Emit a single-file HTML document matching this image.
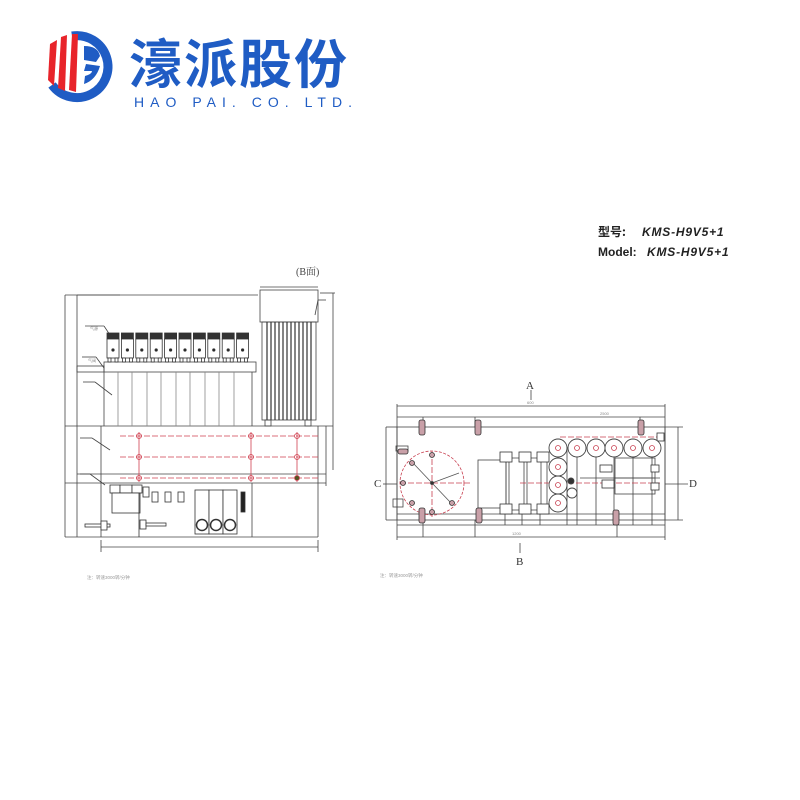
<!DOCTYPE html>
<html><head><meta charset="utf-8"><style>
html,body{margin:0;padding:0;background:#fff;width:800px;height:800px;overflow:hidden}
svg{display:block}
</style></head><body>
<svg width="800" height="800" viewBox="0 0 800 800" xmlns="http://www.w3.org/2000/svg" font-family="Liberation Sans, Noto Sans CJK SC, sans-serif">
<rect width="800" height="800" fill="#fff"/>
<!-- LOGO ICON -->
<g>
  <path d="M72 36 A31 31 0 1 1 52 85" fill="none" stroke="#1f5cc4" stroke-width="9"/>
  <path d="M57 40 L50 44 L48 80 L54 86 Z" fill="#e8242a"/>
  <path d="M67 35 L61 37 L58 88 L65 91 Z" fill="#e8242a"/>
  <path d="M78 34 L72 34 L69 90 L76 92 Z" fill="#e8242a"/>
  <path d="M84 46 Q98 46 100 56 L96 62 L84 60 Z" fill="#1f5cc4"/>
  <path d="M86 64 L100 66 Q96 80 84 84 L85 76 Q92 74 92 71 L84 71 Z" fill="#1f5cc4"/>
</g>
<text x="129" y="83" font-size="53" font-weight="bold" fill="#1f5cc4" font-family="Noto Sans CJK SC, sans-serif" letter-spacing="2">濠派股份</text>
<text x="134" y="107" font-size="14" fill="#1f5cc4" textLength="218" lengthAdjust="spacing">HAO PAI. CO. LTD.</text>

<!-- MODEL -->
<text x="598" y="236" font-size="12" font-weight="bold" fill="#222" font-family="Noto Sans CJK SC, sans-serif">型号:</text>
<text x="642" y="236" font-size="12" font-weight="bold" font-style="italic" fill="#222" letter-spacing="0.8">KMS-H9V5+1</text>
<text x="598" y="256" font-size="12" font-weight="bold" fill="#222">Model:</text>
<text x="647" y="256" font-size="12" font-weight="bold" font-style="italic" fill="#222" letter-spacing="0.8">KMS-H9V5+1</text>

<!-- LEFT DRAWING -->
<g stroke="#444" fill="none" stroke-width="0.8">
  <text x="296" y="275" font-size="10" fill="#444" stroke="none" font-family="Liberation Serif, Noto Serif CJK SC, serif">(B面)</text>
  <line x1="65" y1="295" x2="65" y2="537"/>
  <line x1="65" y1="295" x2="120" y2="295"/>
  <line x1="333" y1="293" x2="333" y2="470"/>
  <line x1="320" y1="293" x2="335" y2="293"/>
  <line x1="101" y1="547" x2="318" y2="547"/>
  <line x1="101" y1="540" x2="101" y2="552"/>
  <line x1="318" y1="540" x2="318" y2="552"/>
  <line x1="77" y1="295" x2="77" y2="537"/>
  <line x1="77" y1="295" x2="258" y2="295"/>
  <line x1="65" y1="537" x2="318" y2="537"/>
  <line x1="65" y1="426" x2="333" y2="426"/>
  <line x1="65" y1="483" x2="326" y2="483"/>
  <line x1="77" y1="474" x2="326" y2="474"/>
  <line x1="101" y1="426" x2="101" y2="537"/>
  <line x1="326" y1="426" x2="326" y2="486"/>
  <line x1="318" y1="426" x2="318" y2="537"/>
  <line x1="252" y1="483" x2="252" y2="537"/>
  <rect x="77" y="366" width="27" height="6"/>
  <rect x="104" y="362" width="152" height="10"/>
  <line x1="104" y1="372" x2="104" y2="426"/>
  <line x1="118" y1="372" x2="118" y2="426" stroke="#888"/>
  <line x1="132" y1="372" x2="132" y2="426" stroke="#888"/>
  <line x1="147" y1="372" x2="147" y2="426" stroke="#888"/>
  <line x1="161" y1="372" x2="161" y2="426" stroke="#888"/>
  <line x1="176" y1="372" x2="176" y2="426" stroke="#888"/>
  <line x1="190" y1="372" x2="190" y2="426" stroke="#888"/>
  <line x1="205" y1="372" x2="205" y2="426" stroke="#888"/>
  <line x1="219" y1="372" x2="219" y2="426" stroke="#888"/>
  <line x1="234" y1="372" x2="234" y2="426" stroke="#888"/>
  <line x1="252" y1="372" x2="252" y2="426"/>
  <line x1="85" y1="326" x2="104" y2="326"/><line x1="104" y1="326" x2="110" y2="335"/>
  <line x1="82" y1="357" x2="96" y2="357"/><line x1="96" y1="357" x2="104" y2="368"/>
  <line x1="83" y1="382" x2="95" y2="382"/><line x1="95" y1="382" x2="112" y2="395"/>
  <line x1="80" y1="438" x2="92" y2="438"/><line x1="92" y1="438" x2="110" y2="450"/>
  <line x1="80" y1="474" x2="90" y2="474"/><line x1="90" y1="474" x2="105" y2="485"/>
</g>
<g stroke="#333" stroke-width="0.8">
  <g id="v">
    <rect x="107" y="333" width="12" height="6" fill="#333"/>
    <rect x="107" y="339" width="12" height="19" fill="#fff"/>
    <circle cx="113" cy="350" r="1.2" fill="#222"/>
    <rect x="108" y="358" width="3" height="4" fill="#fff"/>
    <rect x="115" y="358" width="3" height="4" fill="#fff"/>
  </g>
  <use href="#v" x="14.4"/><use href="#v" x="28.8"/><use href="#v" x="43.2"/><use href="#v" x="57.6"/>
  <use href="#v" x="72"/><use href="#v" x="86.4"/><use href="#v" x="100.8"/><use href="#v" x="115.2"/><use href="#v" x="129.6"/>
</g>
<g stroke="#444" fill="none" stroke-width="0.8">
  <rect x="260" y="290" width="58" height="32"/>
  <rect x="262" y="322" width="54" height="98"/>
  <line x1="260" y1="287" x2="318" y2="287"/>
  <line x1="318" y1="300" x2="326" y2="300"/><line x1="318" y1="300" x2="315" y2="315"/>
  <g stroke="#333" stroke-width="1.2">
    <line x1="267" y1="322" x2="267" y2="420"/><line x1="271" y1="322" x2="271" y2="420"/>
    <line x1="275" y1="322" x2="275" y2="420"/><line x1="279" y1="322" x2="279" y2="420"/>
    <line x1="283" y1="322" x2="283" y2="420"/><line x1="287" y1="322" x2="287" y2="420"/>
    <line x1="291" y1="322" x2="291" y2="420"/><line x1="295" y1="322" x2="295" y2="420"/>
    <line x1="299" y1="322" x2="299" y2="420"/><line x1="303" y1="322" x2="303" y2="420"/>
    <line x1="307" y1="322" x2="307" y2="420"/><line x1="311" y1="322" x2="311" y2="420"/>
  </g>
  <rect x="265" y="420" width="6" height="6"/><rect x="305" y="420" width="6" height="6"/>
</g>
<g stroke="#d04050" stroke-width="0.8" fill="none">
  <line x1="120" y1="436" x2="320" y2="436" stroke-dasharray="6,2"/>
  <line x1="120" y1="457" x2="320" y2="457" stroke-dasharray="6,2"/>
  <line x1="120" y1="478" x2="320" y2="478" stroke-dasharray="6,2"/>
  <line x1="139" y1="432" x2="139" y2="482"/>
  <line x1="251" y1="432" x2="251" y2="482"/>
  <line x1="297" y1="432" x2="297" y2="482"/>
  <circle cx="139" cy="436" r="2.5"/><circle cx="139" cy="457" r="2.5"/><circle cx="139" cy="478" r="2.5"/>
  <circle cx="251" cy="436" r="2.5"/><circle cx="251" cy="457" r="2.5"/><circle cx="251" cy="478" r="2.5"/>
  <circle cx="297" cy="436" r="2.5"/><circle cx="297" cy="457" r="2.5"/><circle cx="297" cy="478" r="2.5" fill="#552"/>
</g>
<g stroke="#333" fill="#fff" stroke-width="0.8">
  <rect x="110" y="485" width="10" height="8"/><rect x="120" y="485" width="12" height="8"/><rect x="132" y="485" width="10" height="8"/>
  <rect x="112" y="493" width="28" height="20"/>
  <rect x="143" y="487" width="6" height="10"/>
  <rect x="152" y="492" width="6" height="10"/><rect x="165" y="492" width="6" height="10"/><rect x="178" y="492" width="6" height="10"/>
  <rect x="195" y="490" width="14" height="44"/><rect x="209" y="490" width="14" height="44"/><rect x="223" y="490" width="14" height="44"/>
  <circle cx="202" cy="525" r="5.5" stroke-width="1.5"/><circle cx="216" cy="525" r="5.5" stroke-width="1.5"/><circle cx="230" cy="525" r="5.5" stroke-width="1.5"/>
  <rect x="241" y="492" width="4" height="20" fill="#222"/>
  <rect x="85" y="524" width="25" height="3"/><rect x="101" y="521" width="6" height="9"/>
  <rect x="140" y="520" width="6" height="9"/><rect x="146" y="523" width="20" height="3"/>
  <line x1="139" y1="493" x2="139" y2="537"/>
</g>
<g fill="#888" font-size="4">
  <text x="90" y="330">气源</text><text x="88" y="362">气阀</text>
  <text x="87" y="579" font-size="4.5" fill="#999">注：转速3000转/分钟</text>
</g>

<!-- RIGHT DRAWING -->
<g font-family="Liberation Serif, serif" fill="#333" font-size="11">
  <text x="526" y="389">A</text><text x="516" y="565">B</text>
  <text x="374" y="487">C</text><text x="689" y="487">D</text>
</g>
<g stroke="#444" fill="none" stroke-width="0.8">
  <line x1="531" y1="390" x2="531" y2="400"/><line x1="520" y1="543" x2="520" y2="553"/>
  <line x1="383" y1="484" x2="397" y2="484"/><line x1="665" y1="484" x2="688" y2="484"/>
  <line x1="397" y1="406" x2="665" y2="406"/>
  <line x1="397" y1="417" x2="665" y2="417"/>
  <line x1="397" y1="525" x2="665" y2="525"/>
  <line x1="397" y1="537" x2="665" y2="537"/>
  <line x1="397" y1="404" x2="397" y2="540"/>
  <line x1="665" y1="404" x2="665" y2="540"/>
  <line x1="386" y1="427" x2="397" y2="427"/><line x1="386" y1="520" x2="397" y2="520"/>
  <line x1="386" y1="427" x2="386" y2="520"/>
  <line x1="665" y1="427" x2="683" y2="427"/><line x1="665" y1="520" x2="683" y2="520"/>
  <line x1="678" y1="427" x2="678" y2="520"/>
  <rect x="397" y="427" width="268" height="93"/>
  <line x1="397" y1="514" x2="665" y2="514"/>
  <rect x="478" y="460" width="28" height="48"/>
  <line x1="506" y1="458" x2="547" y2="458"/><line x1="506" y1="510" x2="547" y2="510"/>
  <line x1="506" y1="458" x2="506" y2="510"/>
  <line x1="524" y1="458" x2="524" y2="510"/><line x1="541" y1="458" x2="541" y2="510"/><line x1="547" y1="458" x2="547" y2="510"/>
  <line x1="509" y1="458" x2="509" y2="510"/><line x1="527" y1="458" x2="527" y2="510"/>
  <rect x="615" y="458" width="40" height="36"/>
  <line x1="615" y1="478" x2="655" y2="478"/>
  <line x1="580" y1="478" x2="660" y2="478"/>
  <line x1="505" y1="510" x2="505" y2="525"/><line x1="522" y1="510" x2="522" y2="525"/>
  <line x1="540" y1="510" x2="540" y2="525"/>
  <line x1="567" y1="447" x2="567" y2="525"/><line x1="577" y1="447" x2="577" y2="525"/>
  <line x1="596" y1="447" x2="596" y2="525"/><line x1="614" y1="447" x2="614" y2="525"/>
  <line x1="633" y1="447" x2="633" y2="525"/><line x1="652" y1="447" x2="652" y2="525"/>
  <line x1="423" y1="417" x2="423" y2="427"/><line x1="475" y1="417" x2="475" y2="427"/><line x1="640" y1="417" x2="640" y2="427"/>
  <line x1="423" y1="520" x2="423" y2="537"/><line x1="475" y1="520" x2="475" y2="537"/><line x1="617" y1="520" x2="617" y2="537"/>
  <rect x="393" y="499" width="10" height="8"/>
  <rect x="396" y="446" width="12" height="5"/>
</g>
<g stroke="#c84050" fill="none" stroke-width="0.8">
  <circle cx="432" cy="483" r="32" stroke-dasharray="3,1.5"/>
  <line x1="400" y1="483" x2="470" y2="483" stroke-dasharray="6,2"/>
  <line x1="432" y1="451" x2="432" y2="517" stroke-dasharray="6,2"/>
  <line x1="432" y1="483" x2="413" y2="463" stroke="#555"/>
  <line x1="432" y1="483" x2="451" y2="503" stroke="#555"/>
  <line x1="432" y1="483" x2="459" y2="473" stroke="#555"/>
  <line x1="520" y1="483" x2="660" y2="483" stroke-dasharray="6,2"/>
  <line x1="560" y1="437" x2="660" y2="437" stroke-dasharray="6,2"/>
</g>
<g stroke="#333" fill="#c9a0a8" stroke-width="0.8">
  <circle cx="412" cy="463" r="2.5"/><circle cx="432" cy="455" r="2.5"/><circle cx="403" cy="483" r="2.5"/>
  <circle cx="412" cy="503" r="2.5"/><circle cx="432" cy="512" r="2.5"/><circle cx="452" cy="503" r="2.5"/>
  <circle cx="432" cy="483" r="1.5" fill="#333"/>
  <rect x="419" y="420" width="6" height="15" rx="2"/><rect x="475" y="420" width="6" height="15" rx="2"/>
  <rect x="638" y="420" width="6" height="15" rx="2"/>
  <rect x="419" y="508" width="6" height="15" rx="2"/><rect x="476" y="508" width="6" height="15" rx="2"/>
  <rect x="613" y="510" width="6" height="15" rx="2"/>
  <rect x="398" y="449" width="10" height="5" rx="2"/>
</g>
<g stroke="#333" fill="#fff" stroke-width="0.8">
  <rect x="500" y="452" width="12" height="10"/><rect x="519" y="452" width="12" height="10"/><rect x="537" y="452" width="12" height="10"/>
  <rect x="500" y="504" width="12" height="10"/><rect x="519" y="504" width="12" height="10"/><rect x="537" y="504" width="12" height="10"/>
  <rect x="600" y="465" width="12" height="7"/><rect x="602" y="480" width="12" height="8"/>
  <rect x="651" y="465" width="8" height="7"/><rect x="651" y="483" width="8" height="7"/>
  <rect x="657" y="433" width="7" height="8"/>
</g>
<g stroke="#444" fill="#fff" stroke-width="0.9">
  <circle cx="558" cy="448" r="9"/><circle cx="577" cy="448" r="9"/><circle cx="596" cy="448" r="9"/>
  <circle cx="614" cy="448" r="9"/><circle cx="633" cy="448" r="9"/><circle cx="652" cy="448" r="9"/>
  <circle cx="558" cy="467" r="9"/><circle cx="558" cy="485" r="9"/><circle cx="558" cy="503" r="9"/>
  <circle cx="572" cy="493" r="5"/><circle cx="571" cy="481" r="3" fill="#333"/>
</g>
<g stroke="#c84050" fill="#fff" stroke-width="0.8">
  <circle cx="558" cy="448" r="2.5"/><circle cx="577" cy="448" r="2.5"/><circle cx="596" cy="448" r="2.5"/>
  <circle cx="614" cy="448" r="2.5"/><circle cx="633" cy="448" r="2.5"/><circle cx="652" cy="448" r="2.5"/>
  <circle cx="558" cy="467" r="2.5"/><circle cx="558" cy="485" r="2.5"/><circle cx="558" cy="503" r="2.5"/>
</g>
<g fill="#888" font-size="4">
  <text x="527" y="404">600</text><text x="600" y="415">2500</text><text x="512" y="535">1200</text>
  <text x="380" y="577" font-size="4.5" fill="#999">注：转速3000转/分钟</text>
</g>
</svg>
</body></html>
